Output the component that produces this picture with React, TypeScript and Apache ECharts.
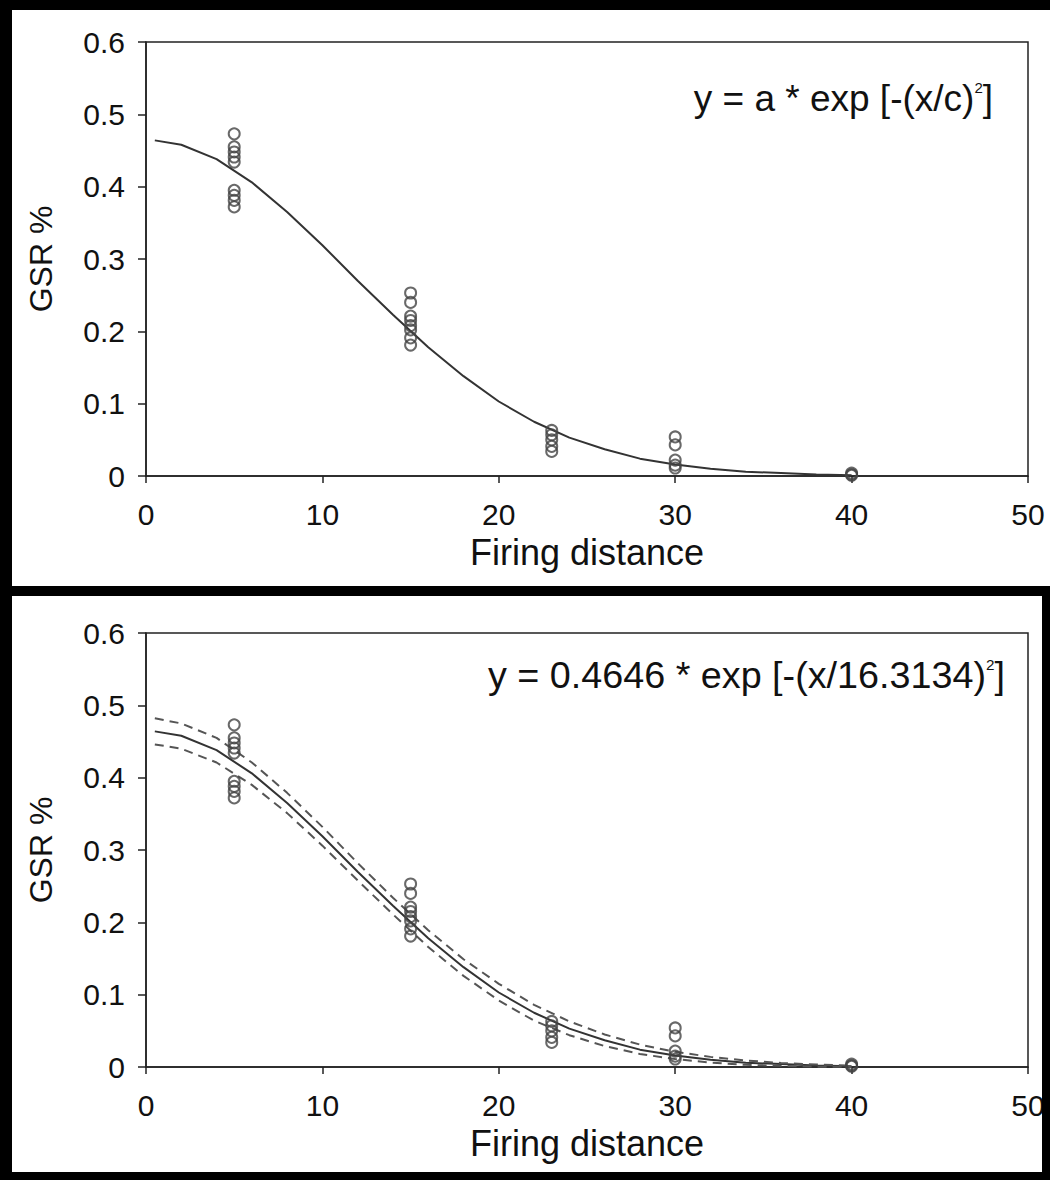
import React, { useEffect, useRef } from "react";
import * as echarts from "echarts";

const distances = [5, 15, 23, 30, 40];
const gsrAt5 = [0.473, 0.455, 0.448, 0.441, 0.434, 0.395, 0.388, 0.381, 0.372];
const gsrAt15 = [0.253, 0.24, 0.221, 0.215, 0.208, 0.202, 0.191, 0.181];
const gsrAt23 = [0.063, 0.057, 0.05, 0.041, 0.034];
const gsrAt30 = [0.054, 0.043, 0.022, 0.015, 0.011];
const gsrAt40 = [0.004, 0.002, 0.001];
const gsrGroups = [gsrAt5, gsrAt15, gsrAt23, gsrAt30, gsrAt40];

// Fitted curve and confidence band
const fitX = [0.5, 2, 4, 6, 8, 10, 12, 14, 16, 18, 20, 22, 24, 26, 28, 30, 32, 34, 36, 38, 40];
const fitY = [0.464, 0.458, 0.438, 0.406, 0.365, 0.319, 0.27, 0.223, 0.178, 0.138, 0.103, 0.075, 0.053, 0.037, 0.024, 0.016, 0.01, 0.006, 0.004, 0.002, 0.001];
const upperY = [0.482, 0.475, 0.455, 0.421, 0.379, 0.332, 0.282, 0.234, 0.189, 0.149, 0.115, 0.086, 0.063, 0.045, 0.031, 0.021, 0.014, 0.009, 0.0056, 0.0035, 0.002];
const lowerY = [0.446, 0.44, 0.421, 0.39, 0.351, 0.306, 0.258, 0.211, 0.166, 0.126, 0.092, 0.064, 0.044, 0.029, 0.018, 0.011, 0.006, 0.003, 0.0016, 0.0005, 0.0001];

const xAxisTitle = "Firing distance";
const yAxisTitle = "GSR %";
const eqTopMain = "y = a * exp [-(x/c)";
const eqBottomMain = "y = 0.4646 * exp [-(x/16.3134)";

const FONT = "'Liberation Sans', Arial, sans-serif";

export default function App() {
  const ref = useRef<HTMLDivElement>(null);

  useEffect(() => {
    if (!ref.current) return;
    const chart = echarts.init(ref.current, undefined, { renderer: "svg" });

    const points: number[][] = [];
    distances.forEach((d, i) => gsrGroups[i].forEach((v) => points.push([d, v])));
    const pair = (ys: number[]) => fitX.map((x, i) => [x, ys[i]]);

    const grids = [
      { left: 146, top: 42, width: 882, height: 434 },
      { left: 146, top: 633, width: 882, height: 434 },
    ];

    const xAxes = grids.map((_, i) => ({
      gridIndex: i,
      type: "value",
      min: 0,
      max: 50,
      interval: 10,
      axisLine: { show: true, onZero: false, lineStyle: { color: "#222", width: 1.5 } },
      axisTick: { show: true, length: 7, lineStyle: { color: "#222", width: 1.5 } },
      splitLine: { show: false },
      axisLabel: { fontSize: 30, color: "#111", margin: 23, fontFamily: FONT },
      name: xAxisTitle,
      nameLocation: "middle",
      nameGap: 58,
      nameTextStyle: { fontSize: 36, color: "#111", fontFamily: FONT },
    }));

    const yAxes = grids.map((_, i) => ({
      gridIndex: i,
      type: "value",
      min: 0,
      max: 0.6,
      interval: 0.1,
      axisLine: { show: true, onZero: false, lineStyle: { color: "#222", width: 1.5 } },
      axisTick: { show: true, length: 8, lineStyle: { color: "#222", width: 1.5 } },
      splitLine: { show: false },
      axisLabel: {
        fontSize: 30,
        color: "#111",
        margin: 21,
        fontFamily: FONT,
        formatter: (v: number) => String(Math.round(v * 10) / 10),
      },
      name: yAxisTitle,
      nameLocation: "middle",
      nameRotate: 90,
      nameGap: 89,
      nameTextStyle: { fontSize: 32, color: "#111", fontFamily: FONT },
    }));

    const scatter = (i: number) => ({
      type: "scatter",
      xAxisIndex: i,
      yAxisIndex: i,
      data: points,
      symbol: "circle",
      symbolSize: 11,
      itemStyle: { color: "rgba(0,0,0,0)", borderColor: "#444", borderWidth: 2 },
      z: 5,
    });

    const line = (i: number, ys: number[], dashed: boolean) => ({
      type: "line",
      xAxisIndex: i,
      yAxisIndex: i,
      data: pair(ys),
      showSymbol: false,
      symbol: "none",
      smooth: false,
      lineStyle: dashed
        ? { color: "#555", width: 2, type: [9, 6] }
        : { color: "#333", width: 2 },
      z: 3,
    });

    const eqRich = {
      m: { fontSize: 37, fontFamily: FONT, fill: "#111", color: "#111" },
      s: { fontSize: 15, fontFamily: FONT, fill: "#111", color: "#111", verticalAlign: "top" },
    };

    const frame = [
      { x: 0, y: 0, width: 1050, height: 10 },
      { x: 0, y: 0, width: 12, height: 1180 },
      { x: 0, y: 586, width: 1050, height: 10 },
      { x: 0, y: 1172, width: 1050, height: 8 },
      { x: 1042, y: 586, width: 8, height: 594 },
    ];

    chart.setOption({
      animation: false,
      backgroundColor: "#fff",
      textStyle: { fontFamily: FONT },
      grid: grids.map((g) => ({ ...g, show: true, borderColor: "#222", borderWidth: 1.5, backgroundColor: "rgba(0,0,0,0)" })),
      xAxis: xAxes,
      yAxis: yAxes,
      series: [
        line(0, fitY, false),
        scatter(0),
        line(1, fitY, false),
        line(1, upperY, true),
        line(1, lowerY, true),
        scatter(1),
      ],
      graphic: [
        ...frame.map((r) => ({ type: "rect", shape: r, style: { fill: "#000" }, z: 100 })),
        {
          type: "text",
          x: 993,
          y: 80,
          scaleX: 1.0,
          style: {
            text: `{m|${eqTopMain}}{s|2}{m|]}`,
            rich: eqRich,
            align: "right",
            verticalAlign: "top",
          },
          z: 100,
        },
        {
          type: "text",
          x: 1005,
          y: 657,
          scaleX: 1.02,
          style: {
            text: `{m|${eqBottomMain}}{s|2}{m|]}`,
            rich: eqRich,
            align: "right",
            verticalAlign: "top",
          },
          z: 100,
        },
      ],
    });

    return () => chart.dispose();
  }, []);

  return (
    <div
      ref={ref}
      style={{ position: "absolute", left: 0, top: 0, width: 1050, height: 1180, background: "#fff" }}
    />
  );
}
